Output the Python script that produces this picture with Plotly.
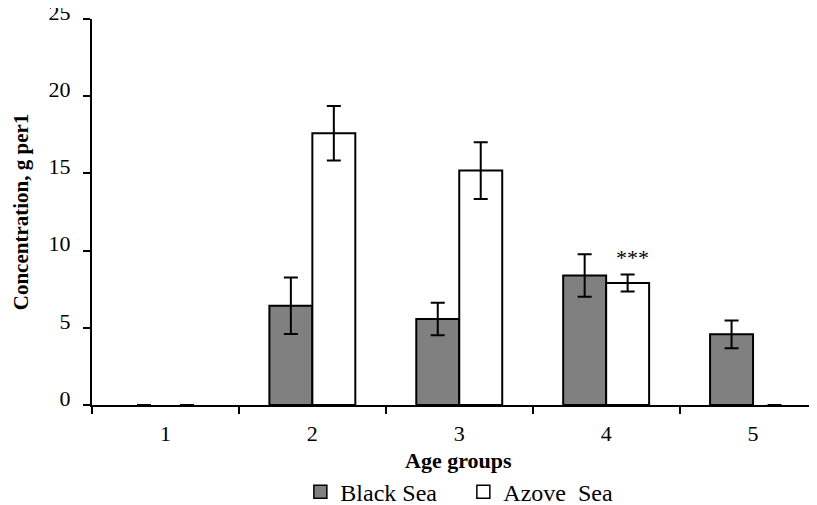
import plotly.graph_objects as go

age_groups = ["1", "2", "3", "4", "5"]
black_sea = [0, 6.43, 5.57, 8.39, 4.58]
black_sea_err = [0, 1.83, 1.05, 1.38, 0.9]
azov_sea = [0, 17.6, 15.18, 7.9, 0]
azov_sea_err = [0, 1.77, 1.83, 0.55, 0]
y_ticks = [0, 5, 10, 15, 20, 25]

FONT = "Liberation Serif, Times New Roman, serif"
# page body has an 8px margin: figure drawn at (8, 8)
W, H = 809, 497
L, T, B = 83.5, 10.5, 99.5
PW = W - L
PH = H - T - B
CAT_PX = 147.0
BAR_W = 43.0 / CAT_PX


def outline(values):
    return [2 if v > 0 else 0 for v in values]


series = [
    ("Black Sea", black_sea, black_sea_err, "#808080", -BAR_W),
    ("Azove  Sea", azov_sea, azov_sea_err, "white", 0.0),
]

fig = go.Figure()
for name, vals, errs, color, off in series:
    fig.add_trace(go.Bar(
        name=name, x=age_groups, y=vals, showlegend=False,
        width=BAR_W, offset=off,
        marker=dict(color=color, line=dict(color="black", width=outline(vals))),
        error_y=dict(type="data", array=errs, color="black", thickness=2, width=7),
    ))
for name, vals, errs, color, off in series:
    fig.add_trace(go.Scatter(
        name=name, x=[None], y=[None], mode="markers", showlegend=True,
        marker=dict(symbol="square", size=13, color=color, line=dict(color="black", width=1.5)),
    ))

fig.add_annotation(x=3.18, y=9.55, xref="x", yref="y", text="***", showarrow=False,
                   font=dict(family=FONT, size=22, color="black"),
                   xanchor="center", yanchor="middle")
fig.add_annotation(x=(20.7 - 8 - L) / PW, y=0.5, xref="paper", yref="paper",
                   text="<b>Concentration, g per1</b>", textangle=-90, showarrow=False,
                   xanchor="center", yanchor="middle",
                   font=dict(family=FONT, size=21, color="black"))
fig.add_annotation(x=(458 - 8 - L) / PW, y=-(461 - 8 - (H - B)) / PH, xref="paper", yref="paper",
                   text="<b>Age groups</b>", showarrow=False,
                   xanchor="center", yanchor="middle",
                   font=dict(family=FONT, size=22, color="black"))

fig.update_layout(
    width=W, height=H,
    margin=dict(l=L, r=0, t=T, b=B, pad=0, autoexpand=False),
    paper_bgcolor="white", plot_bgcolor="white",
    barmode="overlay",
    font=dict(family=FONT, size=22, color="black"),
    showlegend=True,
    legend=dict(orientation="h", x=(300 - 8 - L) / PW, y=-(493 - 8 - (H - B)) / PH,
                xanchor="left", yanchor="middle", itemsizing="trace", entrywidth=118,
                font=dict(family=FONT, size=24, color="black")),
)
fig.update_xaxes(
    type="category", range=[-0.5, -0.5 + (W - L) / CAT_PX], automargin=False,
    showline=True, linecolor="black", linewidth=2,
    ticks="outside", tickson="boundaries", ticklen=7, tickwidth=2, tickcolor="black",
    showgrid=False, zeroline=False, tickfont=dict(family=FONT, size=22),
    ticklabelstandoff=8,
)
fig.update_yaxes(
    range=[0, 25], tickvals=y_ticks, automargin=False,
    showline=True, linecolor="black", linewidth=2,
    ticks="outside", ticklen=7, tickwidth=2, tickcolor="black",
    showgrid=False, zeroline=False, tickfont=dict(family=FONT, size=22),
    ticklabelstandoff=8, ticklabelshift=-7, ticklabeloverflow="allow",
)

fig.write_html("out.html")
